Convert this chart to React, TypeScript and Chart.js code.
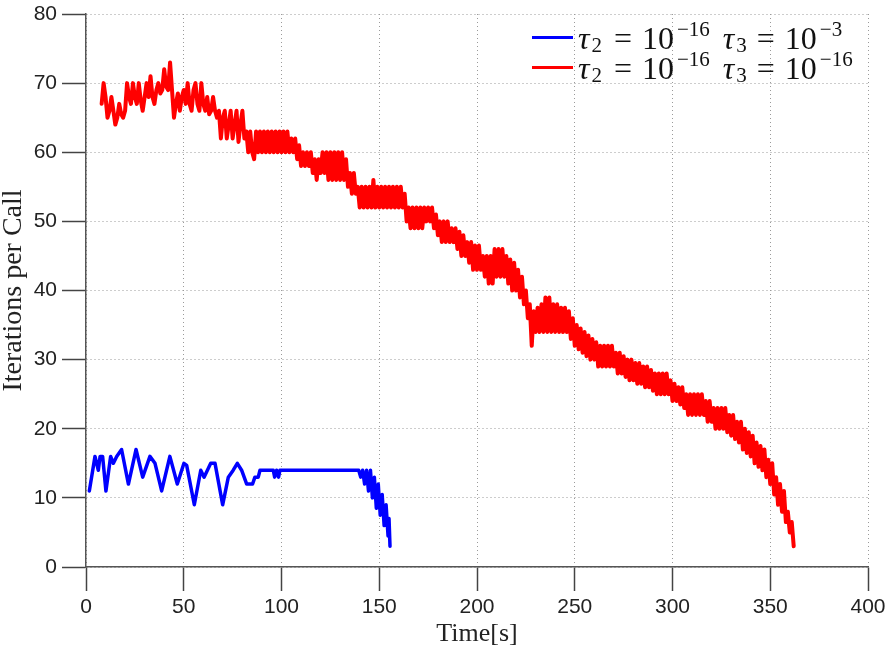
import { useEffect, useRef } from 'react';
import { Chart, registerables } from 'chart.js';

Chart.register(...registerables);

// ---- data ----
const xMin = 0;
const xMax = 400;
const xStep = 50;
const yMin = 0;
const yMax = 80;
const yStep = 10;

const axisTitleX = 'Time[s]';
const axisTitleY = 'Iterations per Call';

const seriesLabels = ['τ₂ = 10⁻¹⁶ τ₃ = 10⁻³', 'τ₂ = 10⁻¹⁶ τ₃ = 10⁻¹⁶'];
const seriesColors = ['#0000ff', '#ff0000'];
const tau2Exponent = '−16';
const tau3Exponents = ['−3', '−16'];

// blue: τ3 = 1e-3 (time stamps and values)
const blueTime = [
  1.7, 4.6, 6.3, 7.2, 8.5, 10.2, 12.6, 14, 15.7, 18.2,
  21.7, 25.6, 29, 32.7, 35.3, 38.7, 42.9, 46.7, 50.1, 51.5,
  55.4, 58.7, 60.4, 63.8, 66, 69.9, 72.8, 75.3, 77.4, 79.6,
  82.2, 85.2, 86.4, 88.1, 89, 95.8, 96.5, 97.5, 98.5, 99.2,
  120, 139.5, 140.5, 141.5, 142.5, 143.5, 144.5, 145.5, 146.5, 147.5,
  148.5, 149.5, 150.5, 151.5, 152.5, 153.5, 154.5, 155, 155.5,
];
const blueValues = [
  11, 16, 14, 16, 16, 11, 16, 15, 16, 17,
  12, 17, 13, 16, 15, 11, 16, 12, 15, 14.7,
  9, 14, 13, 15, 15, 9, 13, 14, 15, 14,
  12, 12, 13, 13, 14, 14, 13, 14, 13, 14,
  14, 14, 13, 14, 12, 14, 11, 14, 10, 13,
  8.5, 12, 7.5, 10.5, 6, 9, 4.5, 7, 3,
];

// red: τ3 = 1e-16, one sample per second starting at t = 8 s
const redStart = 8;
const redValues = [
  67, 70, 68, 65, 66, 68, 66, 64, 65, 67,
  65.5, 65, 66, 70, 68, 67, 70, 68, 67, 70,
  67.5, 66, 68, 70, 68, 71, 68, 67, 69, 70,
  68.5, 69, 72, 69.5, 69, 73, 69, 65, 67, 68.5,
  66, 68, 69, 67, 70, 67, 66, 69, 70, 67,
  66, 70, 67, 66, 68, 65.5, 66, 68, 66, 65,
  66, 62, 65, 66, 62, 64, 66, 62, 64, 66,
  61.5, 64, 66, 62, 63, 60, 63, 60, 59, 63,
  60, 63, 60, 63, 60, 63, 60, 63, 60, 63,
  60, 63, 60, 63, 60, 63, 60, 62, 60, 62,
  59, 61, 58, 60, 58, 60, 58, 60, 57, 59,
  56, 59, 57, 60, 57, 60, 56, 60, 56, 60,
  56, 60, 56, 60, 56, 59, 55, 57, 54, 57,
  54, 55, 52, 55, 52, 55, 52, 55, 52, 56,
  52, 55, 52, 55, 52, 55, 52, 55, 52, 55,
  52, 55, 52, 55, 52, 54, 50, 52, 49, 52,
  49, 52, 49, 52, 49, 52, 50, 52, 50, 52,
  49, 51, 48, 50, 47, 50, 47, 50, 47, 49,
  47, 49, 46, 48.5, 45, 48, 45, 47, 44, 47,
  43, 46.5, 43, 46.5, 43, 45, 42, 45, 41, 45,
  41, 46, 42, 46, 42, 46, 42, 45, 41, 44.5,
  40, 44, 40, 43, 39, 42, 38, 40, 36, 38,
  32, 37, 34, 37.5, 34, 38, 34, 39, 34, 39,
  34, 38, 34, 38, 34, 37.5, 34, 37.5, 34, 37,
  33, 36, 32, 35, 31.5, 34.5, 31, 34, 30.5, 33.5,
  30, 33, 30, 32.5, 29, 32, 29, 32, 29, 32,
  29, 32, 29, 31, 28, 31, 28, 30.5, 27.5, 30,
  27, 30, 27, 29.5, 26.5, 29.5, 26.5, 29, 26, 29,
  26, 28.5, 25.5, 28, 25, 28, 25, 28, 25, 28,
  25, 27, 24, 26.5, 24, 26, 23.5, 26, 23, 25,
  22, 25, 22, 25, 22, 25, 22, 25, 22, 24,
  21, 24, 21, 23, 20, 23, 20, 23, 20, 23,
  19.5, 22, 19, 22, 18.5, 21, 18, 21, 17, 20,
  16.5, 19.5, 16, 19, 15, 18, 14.5, 17.5, 14, 17,
  13, 15.5, 12, 15, 10.5, 13, 9, 12, 8, 11,
  6.5, 8, 5, 6.5, 3,
];

const mathLegend = {
  id: 'mathLegend',
  afterDraw(chart: any) {
    const ctx = chart.ctx as CanvasRenderingContext2D;
    const main = '32px "Liberation Serif"';
    const mainIt = 'italic 32px "Liberation Serif"';
    const small = '21px "Liberation Serif"';
    ctx.save();
    ctx.textBaseline = 'alphabetic';
    ctx.textAlign = 'left';
    chart.data.datasets.forEach((ds: any, i: number) => {
      const base = 49 + i * 30;
      const midY = 37.5 + i * 30;
      ctx.strokeStyle = ds.borderColor;
      ctx.lineWidth = 3;
      ctx.beginPath();
      ctx.moveTo(532, midY);
      ctx.lineTo(573, midY);
      ctx.stroke();
      ctx.fillStyle = '#111';
      let x = 578;
      const put = (text: string, font: string, dy: number, gapAfter: number) => {
        ctx.font = font;
        ctx.fillText(text, x, base + dy);
        x += ctx.measureText(text).width + gapAfter;
      };
      put('τ', mainIt, 0, 2);
      put('2', small, 3, 12);
      put('=', main, 0, 10);
      put('10', main, 0, 3);
      put(tau2Exponent, small, -13, 13);
      put('τ', mainIt, 0, 2);
      put('3', small, 3, 10);
      put('=', main, 0, 10);
      put('10', main, 0, 3);
      put(tau3Exponents[i], small, -13, 0);
    });
    ctx.restore();
  },
};

export default function App() {
  const canvasRef = useRef<HTMLCanvasElement | null>(null);

  useEffect(() => {
    document.body.style.margin = '0';
    const canvas = canvasRef.current;
    if (!canvas) return;

    const blueData = blueTime.map((t, i) => ({ x: t, y: blueValues[i] }));
    const redData = redValues.map((v, i) => ({ x: redStart + i, y: v }));

    const tickFont = { family: '"Liberation Sans", Arial, sans-serif', size: 21 };
    const titleFontX = { family: '"Liberation Serif", "Times New Roman", serif', size: 26, lineHeight: 1 };
    const titleFontY = { family: '"Liberation Serif", "Times New Roman", serif', size: 28, lineHeight: 1 };

    const chart = new Chart(canvas, {
      type: 'line',
      data: {
        datasets: [
          {
            label: seriesLabels[0],
            data: blueData,
            borderColor: seriesColors[0],
            backgroundColor: seriesColors[0],
            borderWidth: 3.5,
            pointRadius: 0,
            tension: 0,
            borderJoinStyle: 'round',
            borderCapStyle: 'round',
          },
          {
            label: seriesLabels[1],
            data: redData,
            borderColor: seriesColors[1],
            backgroundColor: seriesColors[1],
            borderWidth: 4,
            pointRadius: 0,
            tension: 0,
            borderJoinStyle: 'round',
            borderCapStyle: 'round',
          },
        ],
      },
      options: {
        animation: false,
        responsive: true,
        maintainAspectRatio: false,
        layout: { padding: { top: 14, right: 21, left: 0, bottom: 0 } },
        plugins: {
          legend: { display: false },
          tooltip: { enabled: false },
        },
        scales: {
          x: {
            type: 'linear',
            min: xMin,
            max: xMax,
            ticks: { stepSize: xStep, font: tickFont, color: '#222', padding: 4, maxRotation: 0 },
            grid: { color: '#9a9a9a', lineWidth: 1, tickColor: '#444', tickLength: 24, tickWidth: 1.5 },
            border: { display: true, color: '#555', width: 1.5, dash: [1, 3] },
            title: { display: true, text: axisTitleX, font: titleFontX, color: '#222', padding: { top: 0, bottom: 4 } },
            afterFit: (s: any) => {
              s.height = 84;
              s.paddingLeft = 0;
              s.paddingRight = 0;
            },
          },
          y: {
            type: 'linear',
            min: yMin,
            max: yMax,
            ticks: { stepSize: yStep, font: tickFont, color: '#222', padding: 5 },
            grid: { color: '#9a9a9a', lineWidth: 1, tickColor: '#444', tickLength: 24, tickWidth: 1.5 },
            border: { display: true, color: '#555', width: 1.5, dash: [1, 3] },
            title: { display: true, text: axisTitleY, font: titleFontY, color: '#222', padding: { top: 0, bottom: 0 } },
            afterFit: (s: any) => {
              s.width = 86;
              s.paddingTop = 0;
              s.paddingBottom = 0;
            },
          },
        },
      } as any,
      plugins: [mathLegend],
    });

    return () => chart.destroy();
  }, []);

  return (
    <div style={{ position: 'relative', width: 889, height: 651 }}>
      <canvas ref={canvasRef} />
    </div>
  );
}
